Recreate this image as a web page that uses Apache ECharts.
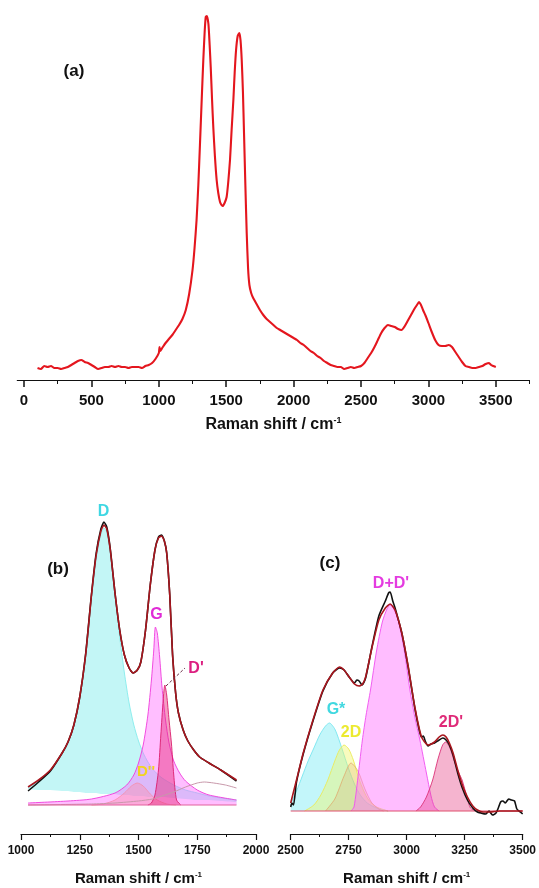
<!DOCTYPE html>
<html>
<head>
<meta charset="utf-8">
<script src="https://cdn.jsdelivr.net/npm/echarts@6/dist/echarts.min.js"></script>
<style>
  html, body { margin: 0; padding: 0; background: #fff; }
  #chart { width: 539px; height: 888px; }
</style>
</head>
<body>
<div id="chart"></div>
<script>
// (a) full spectrum, [raman shift, intensity]
const aSpectrum = [
  [100,12],[125,11],[150,14],[175,13],[200,14],[225,12],[250,12],[275,11],[300,12],[325,13],[350,15],[375,17],
  [400,19],[425,20],[450,18],[475,17],[500,15],[525,13],[550,11],[575,12],[600,13],[625,13],[650,14],[675,13],
  [700,14],[725,13],[750,13],[775,12],[800,13],[825,13],[850,13],[875,12],[900,14],[925,15],[950,17],[975,21],
  [1000,27],[1005,33],[1010,29],[1025,32],[1050,37],[1075,41],[1100,45],[1125,50],[1150,55],[1175,61],[1200,70],
  [1225,86],[1250,110],[1265,132],[1280,160],[1293,195],[1305,235],[1318,280],[1330,320],[1340,348],[1348,363],
  [1356,364],[1368,356],[1377,335],[1385,313],[1395,280],[1404,253],[1416,224],[1429,200],[1441,187],[1454,178],
  [1465,175],[1473,174],[1488,177],[1503,183],[1515,198],[1528,220],[1540,250],[1553,280],[1563,308],[1573,330],
  [1585,344],[1597,347],[1606,340],[1615,320],[1624,288],[1632,247],[1642,195],[1652,147],[1662,112],[1672,95],
  [1685,87],[1700,82],[1725,76],[1750,70],[1775,65],[1800,61],[1825,58],[1850,55],[1875,52],[1900,50],[1925,48],
  [1950,46],[1975,44],[2000,42],[2025,40],[2050,37],[2075,35],[2100,32],[2125,29],[2150,27],[2175,24],[2200,22],
  [2225,19],[2250,17],[2275,15],[2300,14],[2325,13],[2350,13],[2375,11],[2400,12],[2425,13],[2450,12],[2475,13],
  [2500,14],[2525,17],[2550,22],[2575,27],[2600,33],[2625,40],[2650,47],[2675,52],[2700,55],[2725,54],[2750,53],
  [2775,51],[2800,50],[2825,54],[2850,60],[2875,66],[2900,72],[2915,75],[2930,78],[2945,75],[2960,70],[2980,64],
  [3000,57],[3025,48],[3050,40],[3075,35],[3100,34],[3125,34],[3150,35],[3175,33],[3200,28],[3225,23],[3250,18],
  [3275,14],[3300,13],[3325,12],[3350,12],[3375,13],[3400,14],[3425,16],[3450,17],[3465,15],[3480,14],[3500,13]
]
const aTicks = [0, 500, 1000, 1500, 2000, 2500, 3000, 3500]
const aMinorTicks = [250, 750, 1250, 1750, 2250, 2750, 3250, 3750]

// (b) 1000-2000 region
const bExp = [
  [1030,14],[1075,23],[1125,34],[1175,52],[1200,63],[1225,80],[1250,108],[1275,151],[1300,211],[1320,252],
  [1340,276],[1353,283],[1365,278],[1380,256],[1400,212],[1420,175],[1440,150],[1460,137],[1477,132],[1495,135],
  [1510,143],[1530,175],[1550,220],[1570,255],[1585,268],[1598,270],[1610,264],[1620,252],[1633,210],[1645,150],
  [1658,112],[1670,92],[1690,75],[1710,64],[1735,55],[1760,48],[1800,42],[1850,35],[1917,24]
]
const bFit = [
  [1030,18],[1075,25],[1125,35],[1175,52],[1200,63],[1225,80],[1250,108],[1275,150],[1300,210],[1320,250],
  [1340,274],[1353,280],[1365,276],[1380,255],[1400,212],[1420,175],[1440,150],[1460,137],[1477,132],[1495,135],
  [1510,143],[1530,175],[1550,220],[1570,255],[1585,267],[1598,269],[1610,264],[1620,252],[1633,210],[1645,150],
  [1658,112],[1670,92],[1690,75],[1710,64],[1735,55],[1760,48],[1800,42],[1850,35],[1917,25]
]
const bDX = [1030,1075,1125,1175,1200,1225,1250,1275,1300,1320,1340,1353,1365,1380,1400,1420,1440,1460,1480,1500,1520,1540,1560,1580,1600,1650,1700,1750,1800,1850,1917]
const bDTop = [17,24,34,51,62,79,106,148,207,247,271,277,273,252,212,168,132,102,80,64,52,43,36,31,27,20,15,12,9,7,5]
const bDBase = [16,15,15,14,14,13,13,12,12,12,11,11,11,11,11,10,10,10,9,9,9,8,8,8,8,7,6,5,5,4,3]
const bG = [
  [1030,2],[1200,4],[1300,6],[1400,12],[1450,20],[1480,30],[1500,42],[1520,60],[1540,90],[1555,125],[1565,155],
  [1572,178],[1580,172],[1590,148],[1600,118],[1615,85],[1630,62],[1650,44],[1675,32],[1700,24],[1750,15],[1800,10],[1917,5]
]
const bDprime = [
  [1540,0],[1555,2],[1570,10],[1585,35],[1595,70],[1605,105],[1612,120],[1620,110],[1630,85],[1640,62],[1650,30],[1662,5],[1680,0]
]
const bD2prime = [
  [1300,0],[1350,1],[1400,5],[1440,12],[1470,19],[1495,22],[1520,19],[1550,11],[1580,5],[1620,1],[1660,0]
]
const bBroad = [
  [1030,0],[1300,1],[1400,2],[1500,4],[1560,6],[1600,9],[1650,13],[1700,18],[1750,22],[1780,23],[1820,22],[1870,20],[1917,17]
]
const bBaseline = [[1030,0],[1917,0]]

// (c) 2500-3500 region
const cExp = [
  [2500,4],[2505,8],[2512,6],[2525,29],[2554,57],[2596,90],[2639,120],[2681,138],[2710,143],[2730,141],[2752,134],
  [2775,128],[2785,131],[2795,130],[2808,126],[2823,133],[2851,165],[2880,195],[2908,210],[2922,218],[2929,219],
  [2940,210],[2950,203],[2979,178],[3007,143],[3035,103],[3055,80],[3064,74],[3072,75],[3080,70],[3092,65],
  [3105,67],[3120,68],[3140,71],[3156,73],[3170,71],[3184,66],[3200,56],[3220,38],[3240,23],[3262,11],[3285,3],
  [3305,-1],[3320,-2],[3340,-3],[3355,0],[3370,-4],[3385,-2],[3395,3],[3405,9],[3415,10],[3425,8],[3440,12],
  [3452,11],[3465,10],[3475,2],[3490,-1],[3500,-3]
]
const cFit = [
  [2500,8],[2525,31],[2554,58],[2596,91],[2639,121],[2681,138],[2710,144],[2730,141],[2752,134],[2775,127],
  [2795,125],[2810,127],[2823,134],[2851,164],[2880,191],[2908,203],[2929,207],[2950,201],[2979,178],[3007,144],
  [3035,104],[3064,74],[3092,66],[3120,69],[3140,74],[3156,76],[3170,74],[3184,68],[3200,58],[3220,41],[3240,26],
  [3262,14],[3285,5],[3305,1],[3330,-1],[3360,-1],[3400,0],[3450,0],[3500,0]
]
const cGstar = [
  [2500,8],[2525,20],[2550,35],[2575,50],[2600,63],[2625,76],[2650,85],[2667,88],[2690,82],[2710,70],[2730,56],
  [2750,42],[2775,27],[2800,16],[2830,8],[2870,3],[2920,0]
]
const c2D = [
  [2560,0],[2600,6],[2630,16],[2660,31],[2690,50],[2710,61],[2730,66],[2750,62],[2770,51],[2793,33],[2815,20],
  [2836,11],[2870,4],[2920,0]
]
const cShoulder = [
  [2650,0],[2690,12],[2730,35],[2760,48],[2790,40],[2820,22],[2850,8],[2880,2],[2900,0]
]
const cDDprime = [
  [2760,0],[2773,4],[2792,38],[2809,71],[2825,96],[2844,121],[2870,160],[2895,189],[2915,202],[2929,206],
  [2945,202],[2965,189],[2990,160],[3014,121],[3035,94],[3057,71],[3085,38],[3105,15],[3120,4],[3140,0]
]
const c2Dprime = [
  [3040,0],[3060,4],[3085,14],[3112,31],[3135,52],[3155,66],[3168,69],[3185,64],[3205,50],[3225,38],[3239,31],
  [3260,14],[3275,3],[3300,0]
]
const cBaseline = [[2500,0],[3500,0]]

const FONT = '"Liberation Sans", Arial, sans-serif'
const chart = echarts.init(document.getElementById('chart'))

function areaSeries(name, data, xi, color, fill, z) {
  return {
    name: name, type: 'line', xAxisIndex: xi, yAxisIndex: xi === 0 ? 0 : xi - 1,
    data: data, symbol: 'none', smooth: 0.25, z: z,
    lineStyle: { color: color, width: 1 },
    areaStyle: { color: fill, origin: 0 }
  }
}
function lineSeries(name, data, xi, color, width, z) {
  return {
    name: name, type: 'line', xAxisIndex: xi, yAxisIndex: xi === 0 ? 0 : xi - 1,
    data: data, symbol: 'none', smooth: 0.2, z: z,
    lineStyle: { color: color, width: width }
  }
}
function ramanName(size, sup) {
  return {
    name: 'Raman shift / cm{s|-1}',
    nameLocation: 'middle',
    nameTextStyle: {
      fontFamily: FONT, fontWeight: 'bold', fontSize: size, color: '#111',
      rich: { s: { fontFamily: FONT, fontWeight: 'bold', fontSize: sup, color: '#111', padding: [0, 0, size * 0.55, 0] } }
    }
  }
}
function bcAxis(grid, min, max) {
  return Object.assign({
    type: 'value', gridIndex: grid, min: min, max: max, interval: 250,
    nameGap: 37,
    axisLine: { onZero: false, lineStyle: { color: '#111', width: 1.2 } },
    axisTick: { length: 6, lineStyle: { color: '#111', width: 1.2 } },
    minorTick: { show: true, splitNumber: 2, length: 3, lineStyle: { color: '#111', width: 1 } },
    axisLabel: { margin: 11, fontFamily: FONT, fontWeight: 'bold', fontSize: 12, color: '#111', formatter: v => String(v) },
    splitLine: { show: false }
  }, ramanName(15, 8))
}

// D sits on its own sloping base: fill to zero, then mask the part under the base
const dTopData = bDX.map((x, i) => [x, bDTop[i]])
const dBaseData = bDX.map((x, i) => [x, bDBase[i]])

function label(text, x, y, color, size) {
  return {
    type: 'text', x: x, y: y, z: 100,
    style: { text: text, fill: color, font: 'bold ' + size + 'px ' + FONT, align: 'center', verticalAlign: 'middle', textAlign: 'center', textVerticalAlign: 'middle' }
  }
}

chart.setOption({
  animation: false,
  backgroundColor: '#fff',
  grid: [
    { left: 17.3, right: 9.5, top: 0, bottom: 508 },
    { left: 21, right: 283, top: 480, bottom: 54 },
    { left: 290.7, right: 14, top: 480, bottom: 54 }
  ],
  xAxis: [
    Object.assign({
      type: 'value', gridIndex: 0, min: -50, max: 3750, position: 'bottom',
      nameGap: 36,
      axisLine: { onZero: false, lineStyle: { color: '#111', width: 1.2 } },
      axisTick: { customValues: aTicks, length: 7, lineStyle: { color: '#111', width: 1.5 } },
      axisLabel: { customValues: aTicks, margin: 13, fontFamily: FONT, fontWeight: 'bold', fontSize: 15, color: '#111', formatter: v => String(v) },
      splitLine: { show: false }
    }, ramanName(16, 9)),
    {
      type: 'value', gridIndex: 0, min: -50, max: 3750, position: 'bottom', offset: 0,
      axisLine: { show: false, onZero: false },
      axisTick: { customValues: aMinorTicks, length: 4, lineStyle: { color: '#111', width: 1 } },
      axisLabel: { show: false },
      splitLine: { show: false }
    },
    bcAxis(1, 1000, 2000),
    bcAxis(2, 2500, 3500)
  ],
  yAxis: [
    { type: 'value', gridIndex: 0, min: 0, max: 380, show: false, splitLine: { show: false } },
    { type: 'value', gridIndex: 1, min: -29, max: 325, show: false, splitLine: { show: false } },
    { type: 'value', gridIndex: 2, min: -23, max: 331, show: false, splitLine: { show: false } }
  ],
  series: [
    lineSeries('spectrum', aSpectrum, 0, '#e4161e', 2.1, 2),

    areaSeries('D', dTopData, 2, '#8eeeee', 'rgba(140,238,238,0.75)', 2),
    { name: 'D base', type: 'line', xAxisIndex: 2, yAxisIndex: 1, data: dBaseData,
      symbol: 'none', smooth: 0.25, z: 2, lineStyle: { width: 0, opacity: 0 },
      areaStyle: { color: '#fff', opacity: 1, origin: 0 } },
    areaSeries("D''", bD2prime, 2, 'rgba(240,170,110,0.8)', 'rgba(245,180,120,0.65)', 3),
    areaSeries('G', bG, 2, 'rgba(240,60,220,0.9)', 'rgba(255,100,255,0.6)', 4),
    areaSeries("D'", bDprime, 2, 'rgba(220,30,110,0.9)', 'rgba(230,40,120,0.65)', 5),
    lineSeries('broad', bBroad, 2, '#c898aa', 1, 6),
    lineSeries('b baseline', bBaseline, 2, '#e2609e', 1.2, 6),
    lineSeries('b exp', bExp, 2, '#111', 1.6, 7),
    lineSeries('b fit', bFit, 2, '#a8161e', 1.6, 8),

    areaSeries('G*', cGstar, 3, 'rgba(120,230,240,0.9)', 'rgba(140,238,245,0.75)', 2),
    areaSeries('2D', c2D, 3, 'rgba(235,235,90,0.9)', 'rgba(240,245,100,0.6)', 3),
    areaSeries('shoulder', cShoulder, 3, 'rgba(225,150,90,0.6)', 'rgba(215,150,95,0.3)', 3),
    areaSeries("D+D'", cDDprime, 3, 'rgba(240,80,240,0.9)', 'rgba(255,110,255,0.65)', 4),
    areaSeries("2D'", c2Dprime, 3, 'rgba(220,50,120,0.9)', 'rgba(230,60,130,0.55)', 5),
    lineSeries('c baseline', cBaseline, 3, '#e0506e', 1.2, 6),
    lineSeries('c exp', cExp, 3, '#111', 1.6, 7),
    lineSeries('c fit', cFit, 3, '#a8161e', 1.6, 8)
  ],
  graphic: [
    label('(a)', 74, 71, '#111', 17),
    label('(b)', 58, 569, '#111', 17),
    label('(c)', 330, 563, '#111', 17),
    label('D', 103.5, 512, '#3fd7e3', 16),
    label('G', 156.5, 615, '#e02bd6', 16),
    label("D'", 196, 669, '#dc1f80', 16),
    label("D''", 146, 772, '#f2d41f', 15),
    label("D+D'", 391, 584, '#e43be0', 16),
    label('G*', 336, 710, '#40d8e0', 16),
    label('2D', 351, 733, '#ecea30', 16),
    label("2D'", 451, 723, '#df2a78', 16),
    { type: 'line', z: 100, shape: { x1: 166, y1: 686, x2: 185, y2: 668 },
      style: { stroke: '#6a3048', lineWidth: 1, lineDash: [3, 2] } }
  ]
})
</script>
</body>
</html>
